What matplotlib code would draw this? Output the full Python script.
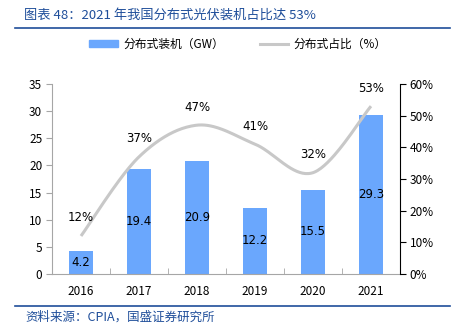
import numpy as np
import matplotlib
matplotlib.use("Agg")
import matplotlib.pyplot as plt
from matplotlib.lines import Line2D
from matplotlib.patches import Patch

plt.rcParams['font.family'] = ['Noto Sans CJK SC', 'DejaVu Sans']

years = ["2016", "2017", "2018", "2019", "2020", "2021"]
capacity_gw = [4.2, 19.4, 20.9, 12.2, 15.5, 29.3]
share_pct = [12, 37, 47, 41, 32, 53]

title_text = "图表 48：2021 年我国分布式光伏装机占比达 53%"
source_text = "资料来源：CPIA，国盛证券研究所"
bar_label = "分布式装机（GW）"
line_label = "分布式占比（%）"

bar_color = "#6aa7fd"
line_color = "#c8c8c8"
brand_blue = "#1f4e9a"
axis_gray = "#a6a6a6"


def smooth_curve(xs, ys, n=40):
    """Bezier smoothing through the points (control points from neighbours)."""
    xs = np.asarray(xs, float)
    ys = np.asarray(ys, float)
    px = np.concatenate([[xs[0]], xs, [xs[-1]]])
    py = np.concatenate([[ys[0]], ys, [ys[-1]]])
    out_x, out_y = [], []
    t = np.linspace(0, 1, n)
    for i in range(1, len(px) - 2):
        p0 = np.array([px[i], py[i]])
        p3 = np.array([px[i + 1], py[i + 1]])
        c1 = p0 + (np.array([px[i + 1], py[i + 1]]) - np.array([px[i - 1], py[i - 1]])) / 6
        c2 = p3 - (np.array([px[i + 2], py[i + 2]]) - np.array([px[i], py[i]])) / 6
        b = ((1 - t) ** 3)[:, None] * p0 + (3 * (1 - t) ** 2 * t)[:, None] * c1 \
            + (3 * (1 - t) * t ** 2)[:, None] * c2 + (t ** 3)[:, None] * p3
        out_x.extend(b[:, 0])
        out_y.extend(b[:, 1])
    return np.array(out_x), np.array(out_y)


fig = plt.figure(figsize=(4.58, 3.36), dpi=100)
ax = fig.add_axes([52 / 458, 62 / 336, 348 / 458, 190 / 336])
ax2 = ax.twinx()

x = np.arange(len(years))
ax.bar(x, capacity_gw, width=0.4, color=bar_color, zorder=2)
for xi, v in zip(x, capacity_gw):
    ax.text(xi, v / 2, f"{v}", ha="center", va="center", fontsize=8.5,
            color="black", family="DejaVu Sans", zorder=4)

ax.set_xlim(-0.5, len(years) - 0.5)
ax.set_ylim(0, 35)
ax.set_yticks(np.arange(0, 36, 5))
ax.set_xticks(x)
ax.set_xticklabels(years)
ax.set_xticks(np.arange(-0.5, len(years), 1), minor=True)
ax.tick_params(axis="x", which="major", length=0, pad=8, labelsize=8.5)
ax.tick_params(axis="x", which="minor", length=4, color=axis_gray, direction="in")
ax.tick_params(axis="y", length=4, color=axis_gray, labelsize=8.5, pad=3)
for side in ("top", "right"):
    ax.spines[side].set_visible(False)
ax.spines["left"].set_color(axis_gray)
ax.spines["bottom"].set_color(axis_gray)

sx, sy = smooth_curve(x, share_pct)
ax2.plot(sx, sy, color=line_color, lw=2.2, solid_capstyle="butt", zorder=3)
for xi, v in zip(x, share_pct):
    ax2.annotate(f"{v}%", (xi, v), xytext=(0, 13), textcoords="offset points",
                 ha="center", va="center", fontsize=8.5, family="DejaVu Sans")
ax2.set_ylim(0, 60)
ax2.set_yticks(np.arange(0, 61, 10))
ax2.set_yticklabels([f"{v}%" for v in range(0, 61, 10)])
ax2.tick_params(axis="y", length=4, color="black", labelsize=8.5, pad=3)
for side in ("top", "left", "bottom"):
    ax2.spines[side].set_visible(False)
ax2.spines["right"].set_color("black")

# Header, rules and source line
fig.text(24 / 458, 1 - 15 / 336, title_text, fontsize=9.5, color=brand_blue,
         ha="left", va="center", style="italic")
fig.add_artist(Line2D([15 / 458, 450 / 458], [1 - 28 / 336] * 2,
                      color=brand_blue, lw=1.2))
fig.add_artist(Line2D([15 / 458, 450 / 458], [1 - 306 / 336] * 2,
                      color=brand_blue, lw=1.2))
fig.text(25 / 458, 1 - 317 / 336, source_text, fontsize=9, color=brand_blue,
         ha="left", va="center", style="italic")

handles = [Patch(color=bar_color), Line2D([], [], color=line_color, lw=2.2)]
fig.legend(handles, [bar_label, line_label], loc="center",
           bbox_to_anchor=(0.52, 1 - 44 / 336), ncol=2, frameon=False,
           fontsize=8.5, handlelength=2.4, handleheight=0.6, columnspacing=3.0,
           handletextpad=0.5)

fig.savefig("out.png", dpi=100)
